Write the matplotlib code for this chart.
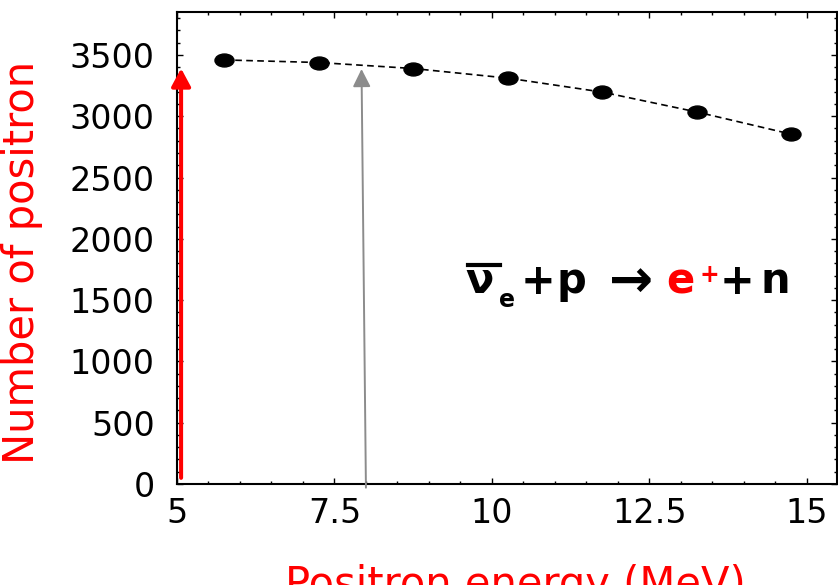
import matplotlib
matplotlib.use("Agg")
import matplotlib.pyplot as plt
from matplotlib.path import Path
from matplotlib.patches import FancyArrowPatch
from matplotlib.lines import Line2D
from matplotlib.transforms import Affine2D
from matplotlib.ticker import MultipleLocator

# ---- data ----
energy = [5.75, 7.25, 8.75, 10.25, 11.75, 13.25, 14.75]
positrons = [3459, 3438, 3389, 3311, 3197, 3035, 2854]
xticks = [5, 7.5, 10, 12.5, 15]
xtick_labels = ["5", "7.5", "10", "12.5", "15"]
yticks = [0, 500, 1000, 1500, 2000, 2500, 3000, 3500]
ytick_labels = [str(v) for v in yticks]
red_arrow = [(5.065, 50), (5.065, 3390)]
gray_arrow = [(8.0, -30), (7.93, 3385)]

W, H = 838, 585
fig = plt.figure(figsize=(W / 100, H / 100), dpi=100)
ax = fig.add_axes([177 / W, 1 - 484 / H, (837 - 177) / W, (484 - 12) / H])

ellipse = Path.unit_circle().transformed(Affine2D().scale(1.0, 0.68))
ax.plot(energy, positrons, color="black", lw=1.2, dashes=(4, 2.6),
        marker=ellipse, markersize=13.7, markerfacecolor="black",
        markeredgecolor="black", zorder=3)

ax.set_xlim(5, 15.48)
ax.set_ylim(0, 3850)
ax.set_xticks(xticks)
ax.set_xticklabels(xtick_labels)
ax.set_yticks(yticks)
ax.set_yticklabels(ytick_labels)
ax.xaxis.set_minor_locator(MultipleLocator(0.5))
ax.yaxis.set_minor_locator(MultipleLocator(100))
ax.tick_params(which="both", direction="in", top=True, right=True,
               color="black", width=1.0)
ax.tick_params(which="major", length=4.5)
ax.tick_params(which="minor", length=2.5)
ax.tick_params(axis="x", which="major", labelsize=24, pad=9.5)
ax.tick_params(axis="y", which="major", labelsize=24, pad=16)
for s in ax.spines.values():
    s.set_linewidth(1.5)

# arrows
fa = FancyArrowPatch(red_arrow[0], red_arrow[1],
                     arrowstyle="-|>,head_length=10.8,head_width=5.8",
                     mutation_scale=1, lw=2.9, color="#ff0000",
                     shrinkA=0, shrinkB=0, clip_on=False, zorder=4)
ax.add_patch(fa)
ga = FancyArrowPatch(gray_arrow[0], gray_arrow[1],
                     arrowstyle="-|>,head_length=10.8,head_width=5.4",
                     mutation_scale=1, lw=1.4, color="#8c8c8c",
                     shrinkA=0, shrinkB=0, clip_on=False, zorder=4)
ax.add_patch(ga)

# axis labels
fig.text(22 / W, 1 - 262 / H, "Number of positron", rotation=90,
         ha="center", va="center", fontsize=30, color="#ff0000")
fig.text(515 / W, (H - 597) / H, "Positron energy (MeV)",
         ha="center", va="baseline", fontsize=30, color="#ff0000")

# reaction equation
def ptext(x, y, s, size=29, color="black"):
    fig.text(x / W, 1 - y / H, s, ha="left", va="baseline",
             fontsize=size, fontweight="bold", color=color)

ptext(465, 293, "ν", size=30)
fig.add_artist(Line2D([468 / W, 500 / W], [1 - 265 / H, 1 - 265 / H],
                      transform=fig.transFigure, color="black", lw=3))
ptext(499, 307, "e", size=17)
ptext(521, 294, "+", size=30)
ptext(557, 293, "p", size=30)
ptext(609, 297, "→", size=38)
ptext(666, 293, "e", size=30, color="#ff0000")
ptext(699, 282, "+", size=17, color="#ff0000")
ptext(720, 294, "+", size=30)
ptext(760, 293, "n", size=30)

fig.savefig("out.png", dpi=100)
